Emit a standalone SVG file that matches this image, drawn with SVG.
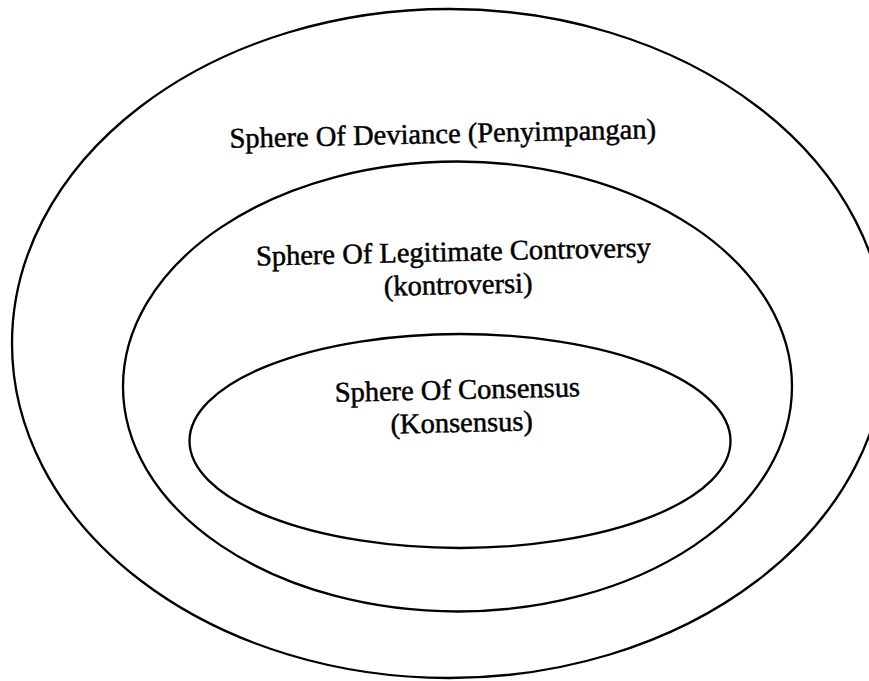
<svg xmlns="http://www.w3.org/2000/svg" width="869" height="681" viewBox="0 0 869 681">
  <style>
    .ring { fill: none; stroke: #000; stroke-width: 2.3; }
    .label { font-family: "Liberation Serif", "Times New Roman", serif; font-size: 28.5px; fill: #000; stroke: #000; stroke-width: 0.5; text-anchor: middle; }
  </style>
  <rect width="869" height="681" fill="#fff"/>

  <!-- outer sphere -->
  <g id="deviance">
    <ellipse class="ring" cx="449" cy="343.5" rx="437" ry="334.5"/>
    <text class="label" x="443" y="143" transform="rotate(-1.3 443 143)">Sphere Of Deviance (Penyimpangan)</text>
  </g>

  <!-- middle sphere -->
  <g id="controversy">
    <ellipse class="ring" cx="457.5" cy="386.5" rx="334.5" ry="225"/>
    <text class="label" transform="rotate(-1.3 457.5 278)">
      <tspan x="457.5" y="261">Sphere Of Legitimate Controversy</tspan>
      <tspan x="458" y="294">(kontroversi)</tspan>
    </text>
  </g>

  <!-- inner sphere -->
  <g id="consensus">
    <ellipse class="ring" cx="460" cy="441" rx="270.5" ry="107"/>
    <text class="label" transform="rotate(-1.3 461.5 416)">
      <tspan x="461.5" y="399">Sphere Of Consensus</tspan>
      <tspan x="461.5" y="432">(Konsensus)</tspan>
    </text>
  </g>

  <g id="connectors"/>
</svg>
